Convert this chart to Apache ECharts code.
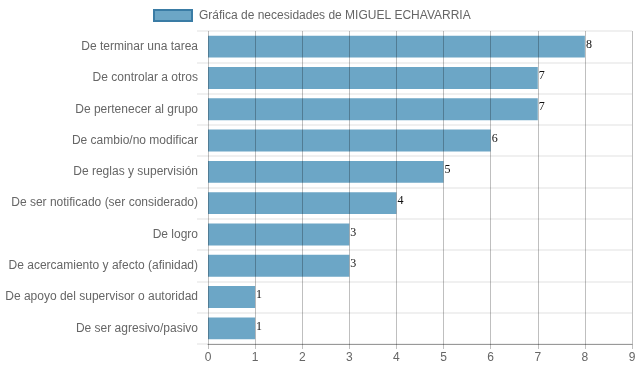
<!DOCTYPE html>
<html>
<head>
<meta charset="utf-8">
<script src="https://cdn.jsdelivr.net/npm/echarts@6/dist/echarts.min.js"></script>
<style>
html,body{margin:0;padding:0;background:#fff;}
#c{width:639px;height:372px;}
</style>
</head>
<body>
<div id="c"></div>
<script>
const categories = [
  "De terminar una tarea",
  "De controlar a otros",
  "De pertenecer al grupo",
  "De cambio/no modificar",
  "De reglas y supervisión",
  "De ser notificado (ser considerado)",
  "De logro",
  "De acercamiento y afecto (afinidad)",
  "De apoyo del supervisor o autoridad",
  "De ser agresivo/pasivo"
];
const values = [8, 7, 7, 6, 5, 4, 3, 3, 1, 1];
const seriesName = "Gráfica de necesidades de MIGUEL ECHAVARRIA";
const xTicks = [0, 1, 2, 3, 4, 5, 6, 7, 8, 9];

const chart = echarts.init(document.getElementById('c'), null, {renderer: 'canvas'});
chart.setOption({
  animation: false,
  legend: {
    top: 4,
    left: 148,
    itemWidth: 38,
    itemHeight: 11,
    itemGap: 6,
    icon: 'rect',
    textStyle: {color: '#666', fontSize: 12, fontFamily: 'Liberation Sans, Arial, sans-serif', padding: [0, 0, 0, 2]},
    data: [{name: seriesName, itemStyle: {color: '#6ca6c6', borderColor: '#3a7ca5', borderWidth: 2}}]
  },
  grid: {left: 208, right: 7, top: 31, bottom: 28, containLabel: false},
  xAxis: {
    type: 'value',
    min: xTicks[0],
    max: xTicks[xTicks.length - 1],
    interval: 1,
    z: 3,
    axisLine: {show: true, lineStyle: {color: '#999', width: 1}},
    axisTick: {show: true, length: 5, lineStyle: {color: 'rgba(0,0,0,0.25)'}},
    axisLabel: {color: '#666', fontSize: 12, margin: 8, fontFamily: 'Liberation Sans, Arial, sans-serif'},
    splitLine: {show: true, lineStyle: {color: 'rgba(0,0,0,0.25)', width: 1}}
  },
  yAxis: {
    type: 'category',
    inverse: true,
    data: categories,
    axisLine: {show: false},
    axisTick: {show: true, length: 11, lineStyle: {color: '#f0f0f0', width: 2}},
    axisLabel: {color: '#666', fontSize: 12, margin: 10, fontFamily: 'Liberation Sans, Arial, sans-serif'},
    splitLine: {show: true, lineStyle: {color: '#f0f0f0', width: 2}}
  },
  series: [{
    name: seriesName,
    type: 'bar',
    data: values,
    barCategoryGap: '30%',
    itemStyle: {color: '#6ca6c6'},
    label: {
      show: true,
      position: 'right',
      distance: 1,
      color: '#111',
      fontSize: 12,
      fontFamily: 'Liberation Serif, Times New Roman, serif',
      offset: [0, -2]
    }
  }]
});
</script>
</body>
</html>
